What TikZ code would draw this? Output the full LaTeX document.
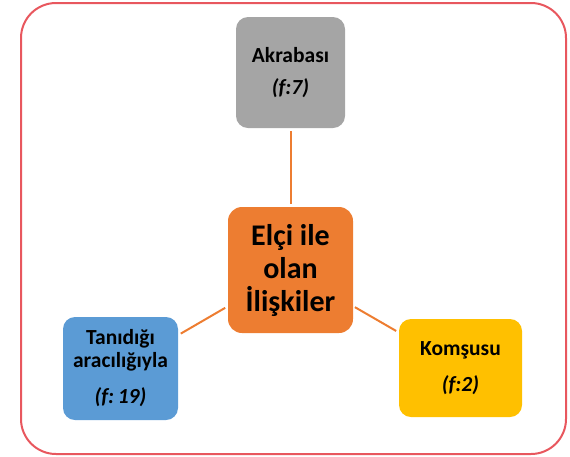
\documentclass[tikz,border=0pt]{standalone}
\usepackage{fontspec}
\setmainfont{Carlito}
\definecolor{framered}{HTML}{E8575E}
\definecolor{boxgray}{HTML}{A5A5A5}
\definecolor{boxorange}{HTML}{ED7D31}
\definecolor{boxblue}{HTML}{5B9BD5}
\definecolor{boxyellow}{HTML}{FFC000}
\tikzset{
  x=1pt,y=-1pt,
  leaf/.style={rounded corners=12pt, inner sep=0pt, align=center, font=\fontsize{21.5}{22.5}\selectfont\bfseries},
  hub/.style={rounded corners=14pt, inner sep=0pt, align=center, font=\fontsize{30}{33}\selectfont\bfseries},
  link/.style={draw=boxorange, line width=2pt},
}
\begin{document}
\begin{tikzpicture}
\useasboundingbox (0,0) rectangle (570,456);
\draw[framered, line width=2pt, rounded corners=35pt] (21,3) rectangle (566,454);
\node[hub, fill=boxorange, minimum width=125pt, minimum height=126pt] (hub) at (290.5,270) {Elçi ile\\olan\\İlişkiler};
\node[leaf, fill=boxgray, minimum width=109pt, minimum height=111pt] (akr) at (290.5,72.5) {Akrabası\\[10pt]\textit{(f:7)}};
\node[leaf, fill=boxblue, minimum width=115pt, minimum height=103pt] (tan) at (120.5,368.5) {Tanıdığı\\aracılığıyla\\[14pt]\textit{(f:\,19)}};
\node[leaf, fill=boxyellow, minimum width=123pt, minimum height=98pt] (kom) at (460.5,368) {Komşusu\\[14pt]\textit{(f:2)}};
\draw[link, shorten <=3pt, shorten >=3pt] (akr) -- (hub);
\draw[link, shorten <=3pt, shorten >=3pt] (hub) -- (tan);
\draw[link, shorten <=2pt, shorten >=3pt] (hub) -- (kom);
\end{tikzpicture}
\end{document}
